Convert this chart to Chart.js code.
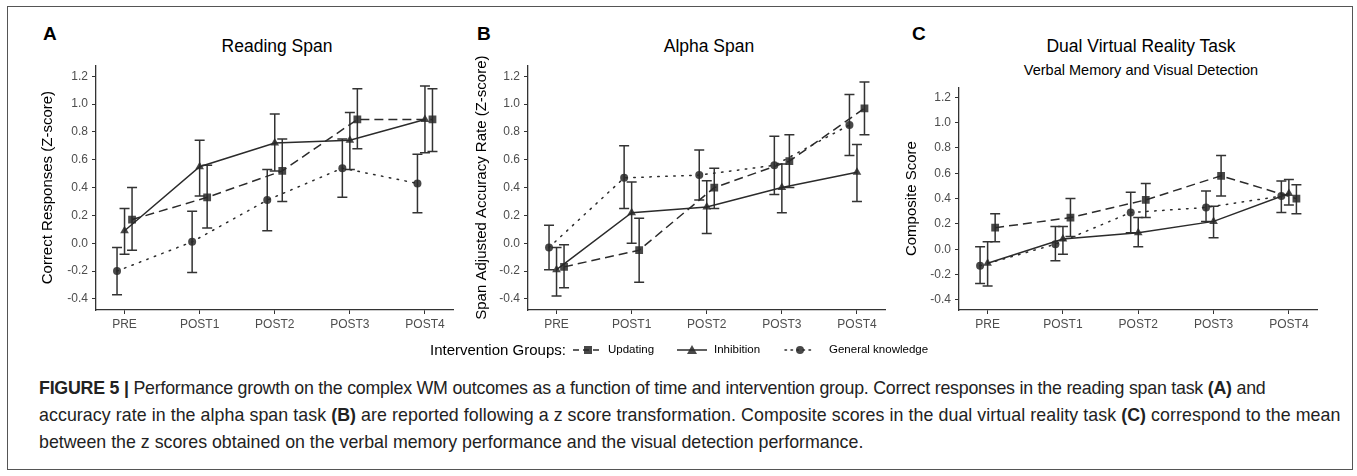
<!DOCTYPE html>
<html>
<head>
<meta charset="utf-8">
<script src="https://cdn.jsdelivr.net/npm/chart.js@4.4.1/dist/chart.umd.min.js"></script>
<style>
  body { margin: 0; background: #fff; width: 1357px; height: 476px; overflow: hidden; position: relative;
         font-family: "Liberation Sans", Arial, sans-serif; }
  .box { position: absolute; left: 7px; top: 6px; width: 1346px; height: 464px; border: 1px solid #555; box-sizing: border-box; }
  canvas { position: absolute; }
  .t { position: absolute; white-space: nowrap; color: #000; line-height: 1; }
  .ttl { transform: translateX(-50%); font-size: 17.5px; }
  .sub { transform: translateX(-50%); font-size: 14.5px; }
  .lett { font-weight: bold; font-size: 19px; }
  .lg { position: absolute; white-space: nowrap; color: #000; line-height: 1; font-size: 11.5px; top: 344px; }
  .lg.lt { font-size: 15px; top: 342px; }
  svg.lg { top: 344px; }
  .cap { position: absolute; left: 39px; font-size: 17.8px; line-height: 27px; color: #222; white-space: nowrap; }
</style>
</head>
<body>
<div class="box"></div>

<div class="t lett" style="left:43px;top:24px">A</div>
<div class="t lett" style="left:477px;top:24px">B</div>
<div class="t lett" style="left:912px;top:24px">C</div>

<div class="t ttl" style="left:277px;top:38px">Reading Span</div>
<div class="t ttl" style="left:709px;top:38px">Alpha Span</div>
<div class="t ttl" style="left:1141px;top:38px">Dual Virtual Reality Task</div>
<div class="t sub" style="left:1141px;top:63px">Verbal Memory and Visual Detection</div>

<canvas id="chartA" width="447" height="286" style="left:12px;top:54px"></canvas>
<canvas id="chartB" width="447" height="286" style="left:444px;top:54px"></canvas>
<canvas id="chartC" width="448" height="264" style="left:875px;top:76px"></canvas>

<span class="lg lt" style="left:430px">Intervention Groups:</span>
<svg class="lg" style="left:572px" width="32" height="12"><line x1="1" y1="6" x2="31" y2="6" stroke="#2b2b2b" stroke-width="1.5" stroke-dasharray="6,4"/><rect x="12" y="2" width="8" height="8" fill="rgba(40,40,40,0.85)"/></svg>
<span class="lg" style="left:608px">Updating</span>
<svg class="lg" style="left:676px" width="32" height="12"><line x1="1" y1="6" x2="31" y2="6" stroke="#2b2b2b" stroke-width="1.5"/><polygon points="16,1 21,10 11,10" fill="rgba(40,40,40,0.85)"/></svg>
<span class="lg" style="left:714px">Inhibition</span>
<svg class="lg" style="left:784px" width="32" height="12"><line x1="1" y1="6" x2="31" y2="6" stroke="#2b2b2b" stroke-width="1.5" stroke-dasharray="1.5,4.5" stroke-linecap="round"/><circle cx="16" cy="6" r="4" fill="rgba(40,40,40,0.85)"/></svg>
<span class="lg" style="left:829px">General knowledge</span>

<div class="cap" style="top:375px;letter-spacing:-0.22px"><b>FIGURE 5 |</b> Performance growth on the complex WM outcomes as a function of time and intervention group. Correct responses in the reading span task <b>(A)</b> and</div>
<div class="cap" style="top:402px;letter-spacing:0.07px">accuracy rate in the alpha span task <b>(B)</b> are reported following a z score transformation. Composite scores in the dual virtual reality task <b>(C)</b> correspond to the mean</div>
<div class="cap" style="top:429px">between the z scores obtained on the verbal memory performance and the visual detection performance.</div>

<script>
// time points + axis ticks
const timePoints = ["PRE", "POST1", "POST2", "POST3", "POST4"];
const yTicks = [-0.4, -0.2, 0.0, 0.2, 0.4, 0.6, 0.8, 1.0, 1.2];
const groupNames = ["Updating", "Inhibition", "General knowledge"];

// Reading span (A)
const readUpd = [0.17, 0.33, 0.52, 0.89, 0.89];
const readUpdLo = [-0.05, 0.11, 0.30, 0.68, 0.66];
const readUpdHi = [0.40, 0.56, 0.75, 1.11, 1.11];
const readInh = [0.09, 0.55, 0.72, 0.74, 0.89];
const readInhLo = [-0.08, 0.34, 0.52, 0.53, 0.65];
const readInhHi = [0.25, 0.74, 0.93, 0.94, 1.13];
const readGk = [-0.20, 0.01, 0.31, 0.54, 0.43];
const readGkLo = [-0.37, -0.21, 0.09, 0.33, 0.22];
const readGkHi = [-0.03, 0.23, 0.53, 0.75, 0.64];

// Alpha span (B)
const alphaUpd = [-0.17, -0.05, 0.40, 0.59, 0.97];
const alphaUpdLo = [-0.32, -0.28, 0.25, 0.40, 0.78];
const alphaUpdHi = [-0.01, 0.18, 0.54, 0.78, 1.16];
const alphaInh = [-0.19, 0.22, 0.26, 0.40, 0.51];
const alphaInhLo = [-0.38, 0.00, 0.07, 0.22, 0.30];
const alphaInhHi = [-0.03, 0.44, 0.45, 0.57, 0.71];
const alphaGk = [-0.03, 0.47, 0.49, 0.56, 0.85];
const alphaGkLo = [-0.19, 0.25, 0.31, 0.35, 0.63];
const alphaGkHi = [0.13, 0.70, 0.67, 0.77, 1.07];

// Dual VR task (C)
const dualUpd = [0.17, 0.25, 0.39, 0.58, 0.40];
const dualUpdLo = [0.06, 0.10, 0.25, 0.42, 0.28];
const dualUpdHi = [0.28, 0.40, 0.52, 0.74, 0.51];
const dualInh = [-0.11, 0.08, 0.13, 0.22, 0.44];
const dualInhLo = [-0.29, -0.04, 0.02, 0.09, 0.35];
const dualInhHi = [0.06, 0.18, 0.25, 0.34, 0.55];
const dualGk = [-0.13, 0.04, 0.29, 0.33, 0.42];
const dualGkLo = [-0.27, -0.09, 0.13, 0.22, 0.29];
const dualGkHi = [0.02, 0.18, 0.45, 0.46, 0.54];

const INK = "#2b2b2b";
const MARK = "rgba(40,40,40,0.85)";

// dodge so the 3 groups dont sit on top of each other
const styles = [
  { dodge: 0.1, pointStyle: "rect", radius: 5.5, dash: [9, 5] },
  { dodge: 0, pointStyle: "triangle", radius: 5, dash: [] },
  { dodge: -0.1, pointStyle: "circle", radius: 4, dash: [1.5, 6.5] }
];

function makeSet(i, means, lo, hi) {
  const s = styles[i];
  return {
    label: groupNames[i],
    data: means.map((v, k) => ({ x: k + s.dodge, y: v })),
    errLo: lo,
    errHi: hi,
    borderColor: INK,
    borderWidth: 1.5,
    borderDash: s.dash,
    borderCapStyle: s.dash.length && s.dash[0] < 2 ? "round" : "butt",
    pointStyle: s.pointStyle,
    pointRadius: s.radius,
    pointBackgroundColor: MARK,
    pointBorderColor: MARK,
    pointBorderWidth: 0,
    fill: false,
    tension: 0
  };
}

// error bars w/ caps, drawn under the lines
const errorBars = {
  id: "errorBars",
  beforeDatasetsDraw(chart) {
    const { ctx, scales: { x, y } } = chart;
    ctx.save();
    ctx.strokeStyle = "#333";
    ctx.lineWidth = 1.5;
    chart.data.datasets.forEach(ds => {
      ds.data.forEach((p, i) => {
        const px = x.getPixelForValue(p.x);
        const top = y.getPixelForValue(ds.errHi[i]);
        const bot = y.getPixelForValue(ds.errLo[i]);
        ctx.beginPath();
        ctx.moveTo(px, top); ctx.lineTo(px, bot);
        ctx.moveTo(px - 5, top); ctx.lineTo(px + 5, top);
        ctx.moveTo(px - 5, bot); ctx.lineTo(px + 5, bot);
        ctx.stroke();
      });
    });
    ctx.restore();
  }
};

function panel(id, sets, yTitle, titlePad) {
  new Chart(document.getElementById(id), {
    type: "line",
    data: { datasets: sets },
    plugins: [errorBars],
    options: {
      responsive: false,
      animation: false,
      devicePixelRatio: 1,
      layout: { padding: { top: 10, right: 0, bottom: 0, left: 0 } },
      plugins: { legend: { display: false }, tooltip: { enabled: false } },
      scales: {
        x: {
          type: "linear",
          min: -0.38,
          max: 4.38,
          afterBuildTicks: s => { s.ticks = timePoints.map((_, i) => ({ value: i })); },
          afterFit: s => { s.height = 30; },
          ticks: {
            callback: v => timePoints[v],
            color: "#4d4d4d",
            font: { family: "Liberation Sans", size: 12 },
            padding: 3,
            autoSkip: false,
            maxRotation: 0
          },
          grid: { drawOnChartArea: false, drawTicks: true, tickLength: 4, color: "#333" },
          border: { color: "#333", width: 1.3 }
        },
        y: {
          min: -0.48,
          max: 1.28,
          afterBuildTicks: s => { s.ticks = yTicks.map(v => ({ value: v })); },
          afterFit: s => { s.width = 84; },
          ticks: {
            callback: v => v.toFixed(1),
            color: "#4d4d4d",
            font: { family: "Liberation Sans", size: 12 },
            padding: 4
          },
          grid: { drawOnChartArea: false, drawTicks: true, tickLength: 4, color: "#333" },
          border: { color: "#333", width: 1.3 },
          title: {
            display: true,
            text: yTitle,
            color: "#000",
            font: { family: "Liberation Sans", size: 15 },
            padding: { top: titlePad, bottom: 0 }
          }
        }
      }
    }
  });
}

panel("chartA", [
  makeSet(0, readUpd, readUpdLo, readUpdHi),
  makeSet(1, readInh, readInhLo, readInhHi),
  makeSet(2, readGk, readGkLo, readGkHi)
], "Correct Responses (Z-score)", 27);

panel("chartB", [
  makeSet(0, alphaUpd, alphaUpdLo, alphaUpdHi),
  makeSet(1, alphaInh, alphaInhLo, alphaInhHi),
  makeSet(2, alphaGk, alphaGkLo, alphaGkHi)
], "Span Adjusted Accuracy Rate (Z-score)", 29);

panel("chartC", [
  makeSet(0, dualUpd, dualUpdLo, dualUpdHi),
  makeSet(1, dualInh, dualInhLo, dualInhHi),
  makeSet(2, dualGk, dualGkLo, dualGkHi)
], "Composite Score", 28);
</script>
</body>
</html>
